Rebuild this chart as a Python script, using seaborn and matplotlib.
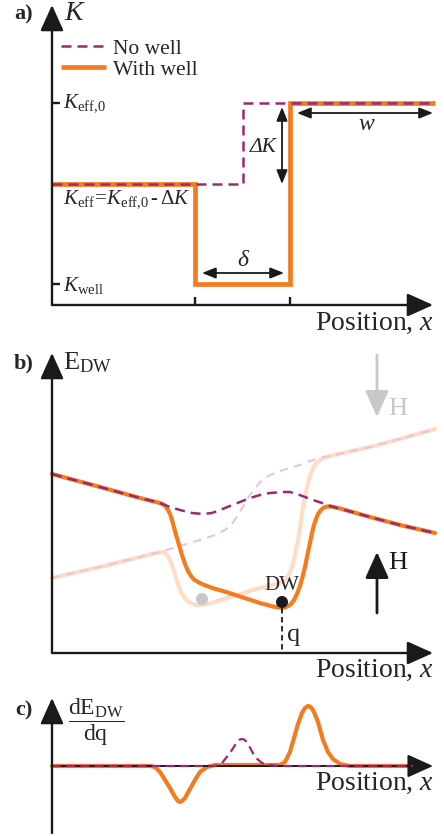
import numpy as np
import pandas as pd
import matplotlib
matplotlib.use("Agg")
import matplotlib.pyplot as plt
import seaborn as sns

# ---------------- data (arbitrary units) ----------------
# Panel a: anisotropy profile K(x)
a_pos_nowell = [0.00, 1.91, 1.91, 3.83]
a_K_nowell = [1.21, 1.21, 2.02, 2.02]
a_pos_well = [0.00, 1.43, 1.43, 2.38, 2.38, 3.83]
a_K_well = [1.21, 1.21, 0.21, 0.21, 2.02, 2.02]
a_xticks = [1.43, 2.38]
a_yticks = [0.21, 2.02]

# Panel b: domain-wall energy E_DW(x)
b_pos_well_up = [0.00, 0.48, 0.88, 1.06, 1.09, 1.12, 1.14, 1.16, 1.18, 1.20, 1.23, 1.27, 1.30,
                 1.33, 1.36, 1.39, 1.42, 1.46, 1.50, 1.55, 1.62, 1.71, 1.88, 2.08, 2.21,
                 2.27, 2.30, 2.33, 2.36, 2.39, 2.42, 2.45, 2.48, 2.50, 2.53, 2.55, 2.58,
                 2.60, 2.62, 2.64, 2.66, 2.69, 2.72, 2.75, 2.79, 2.84, 2.90, 3.18, 3.48, 3.83]
b_E_well_up = [1.79, 1.66, 1.55, 1.505, 1.495, 1.48, 1.46, 1.43, 1.39, 1.33, 1.22, 1.08, 0.98,
               0.89, 0.82, 0.77, 0.735, 0.71, 0.69, 0.67, 0.645, 0.62, 0.565, 0.50, 0.465,
               0.455, 0.45, 0.455, 0.47, 0.49, 0.53, 0.59, 0.67, 0.74, 0.86, 0.96, 1.10,
               1.20, 1.28, 1.34, 1.39, 1.43, 1.455, 1.465, 1.465, 1.455, 1.44, 1.36, 1.28, 1.20]
b_pos_nowell_up = [0.00, 0.48, 0.88, 1.08, 1.18, 1.28, 1.40, 1.51, 1.60, 1.68, 1.78, 1.88,
                   1.98, 2.08, 2.18, 2.31, 2.38, 2.45, 2.53, 2.61, 2.70, 2.78, 3.18, 3.48, 3.83]
b_E_nowell_up = [1.79, 1.66, 1.55, 1.50, 1.46, 1.43, 1.40, 1.39, 1.40, 1.43, 1.47, 1.51,
                 1.55, 1.58, 1.60, 1.61, 1.61, 1.59, 1.56, 1.53, 1.50, 1.47, 1.36, 1.28, 1.20]
b_pos_well_down = [0.00, 0.48, 0.88, 1.06, 1.10, 1.13, 1.16, 1.18, 1.21, 1.24, 1.27, 1.30,
                   1.33, 1.36, 1.40, 1.44, 1.51, 1.60, 1.68, 1.88, 2.08, 2.20, 2.27, 2.31,
                   2.34, 2.37, 2.39, 2.41, 2.43, 2.44, 2.46, 2.48, 2.50, 2.53, 2.55, 2.58,
                   2.61, 2.64, 2.68, 2.72, 2.78, 3.18, 3.48, 3.83]
b_E_well_down = [0.75, 0.86, 0.96, 1.005, 1.01, 1.00, 0.97, 0.93, 0.85, 0.75, 0.66, 0.59,
                 0.545, 0.515, 0.495, 0.48, 0.48, 0.50, 0.53, 0.59, 0.65, 0.68, 0.70, 0.715,
                 0.74, 0.78, 0.83, 0.89, 0.97, 1.03, 1.12, 1.25, 1.40, 1.56, 1.66, 1.77,
                 1.845, 1.895, 1.93, 1.955, 1.97, 2.06, 2.14, 2.24]
b_pos_nowell_down = [0.00, 0.48, 0.88, 1.08, 1.28, 1.48, 1.63, 1.73, 1.80, 1.86, 1.92, 1.98,
                     2.04, 2.10, 2.18, 2.28, 2.38, 2.48, 2.58, 2.68, 2.78, 3.18, 3.48, 3.83]
b_E_nowell_down = [0.75, 0.86, 0.96, 1.01, 1.07, 1.13, 1.18, 1.23, 1.29, 1.38, 1.48, 1.58,
                   1.66, 1.73, 1.78, 1.82, 1.85, 1.88, 1.92, 1.95, 1.97, 2.06, 2.14, 2.24]
b_dw_old = (1.50, 0.54)
b_dw_new = (2.30, 0.51)
b_q = 2.30
b_q_E = 0.45

# Panel c: dE_DW/dq
c_pos_well = [0.00, 0.98, 1.03, 1.08, 1.13, 1.18, 1.23, 1.26, 1.28, 1.30, 1.33, 1.38, 1.43,
              1.48, 1.55, 1.63, 1.88, 2.18, 2.28, 2.33, 2.38, 2.42, 2.46, 2.50, 2.53, 2.56,
              2.58, 2.60, 2.62, 2.66, 2.71, 2.76, 2.81, 2.88, 2.98, 3.61]
c_dE_well = [0.00, 0.00, -0.01, -0.06, -0.14, -0.22, -0.31, -0.35, -0.36, -0.35, -0.32, -0.23,
             -0.14, -0.06, -0.01, 0.01, 0.01, 0.01, 0.01, 0.04, 0.14, 0.28, 0.42, 0.53, 0.58,
             0.60, 0.595, 0.575, 0.54, 0.44, 0.26, 0.14, 0.07, 0.02, 0.00, 0.00]
c_pos_nowell = [0.00, 1.63, 1.70, 1.78, 1.85, 1.88, 1.90, 1.92, 1.95, 2.03, 2.10, 2.18, 2.28, 3.61]
c_dE_nowell = [0.00, 0.00, 0.03, 0.13, 0.24, 0.265, 0.27, 0.265, 0.24, 0.09, 0.03, 0.01, 0.00, 0.00]

# ---------------- styling ----------------
ORANGE = "#F47B20"
PURPLE = "#9A2A70"
TAN = "#FDDDC6"
PINK = "#E8C6DA"
GREY = "#C8C8C8"

sns.set_theme(style="white")
plt.rcParams["font.family"] = ["Liberation Serif", "DejaVu Serif"]
plt.rcParams["mathtext.fontset"] = "custom"
plt.rcParams["mathtext.rm"] = "Liberation Serif"
plt.rcParams["mathtext.it"] = "Liberation Serif:italic"
plt.rcParams["mathtext.bf"] = "Liberation Serif:bold"

W, H = 444, 836
fig = plt.figure(figsize=(W / 100, H / 100), dpi=100)
fig.patch.set_facecolor("white")

AX_LW = 1.7
AX_HEAD = "-|>,head_length=0.8,head_width=0.36"


def make_ax(top_px, bot_px, ylim):
    ax = fig.add_axes([0, 1 - bot_px / H, 1, (bot_px - top_px) / H])
    ax.set_xlim(-0.52, 3.92)
    ax.set_ylim(*ylim)
    ax.patch.set_alpha(0)
    for s in ax.spines.values():
        s.set_color("none")
    ax.spines["left"].set_position(("data", 0))
    ax.spines["bottom"].set_position(("data", 0))
    ax.set_xticks([])
    ax.set_yticks([])
    return ax


def axis_arrow(ax, start, end, color="k", lw=AX_LW, z=6):
    ax.annotate("", xy=end, xytext=start,
                arrowprops=dict(arrowstyle=AX_HEAD, lw=lw, color=color,
                                mutation_scale=20, shrinkA=0, shrinkB=0),
                zorder=z)


def dbl_arrow(ax, start, end):
    ax.annotate("", xy=end, xytext=start,
                arrowprops=dict(arrowstyle="<|-|>,head_length=0.55,head_width=0.22",
                                lw=1.3, color="k", mutation_scale=15,
                                shrinkA=0, shrinkB=0), zorder=6)


def curve(ax, x, y, color, lw, ls="-", z=3, **kw):
    sns.lineplot(x=x, y=y, ax=ax, sort=False, estimator=None, color=color,
                 linewidth=lw, linestyle=ls, zorder=z, **kw)
    ax.set(xlabel="", ylabel="")
    return ax.lines[-1]


DASH = (0, (4, 2.4))
POS_LABEL = r"Position, $x$"
POS_FS = 20

# ---------------- panel a ----------------
axa = make_ax(0, 335, (-0.30, 3.05))
l_well = curve(axa, a_pos_well, a_K_well, ORANGE, 3.4, z=3,
               solid_joinstyle="miter", solid_capstyle="butt")
l_nowell = curve(axa, a_pos_nowell, a_K_nowell, PURPLE, 1.8, ls=DASH, z=4)
axa.set_xticks(a_xticks)
axa.set_yticks(a_yticks)
axa.tick_params(bottom=True, left=True, direction="in", length=6, width=AX_LW,
                color="k", labelbottom=False, labelleft=False)
axis_arrow(axa, (0, 0), (0, 3.00))
axis_arrow(axa, (0, 0), (3.81, 0))
axa.legend(handles=[l_nowell, l_well], labels=["No well", "With well"],
           loc="upper left", bbox_to_anchor=(0.138, 0.885), frameon=False,
           fontsize=15.5, handlelength=2.1, handletextpad=0.3, labelspacing=0.05,
           borderaxespad=0, borderpad=0)
axa.text(-0.28, 2.91, "a)", fontsize=16, fontweight="bold", ha="center", va="center")
axa.text(0.12, 2.91, "K", fontsize=20, fontstyle="italic", ha="left", va="center")
axa.text(0.11, 2.02, r"$K_{\mathrm{eff{,}0}}$", fontsize=15, ha="left", va="center")
axa.text(0.11, 0.20, r"$K_{\mathrm{well}}$", fontsize=15, ha="left", va="center")
axa.text(0.11, 1.06, r"$K_{\mathrm{eff}}\!=\!K_{\mathrm{eff{,}0}}\,$-$\,\Delta K$", fontsize=15,
         ha="left", va="center")
dbl_arrow(axa, (2.30, 1.21), (2.30, 1.98))
axa.text(2.11, 1.58, "ΔK", fontsize=15.5, fontstyle="italic", ha="center", va="center")
dbl_arrow(axa, (2.45, 1.92), (3.81, 1.92))
axa.text(3.14, 1.80, "w", fontsize=17, fontstyle="italic", ha="center", va="center")
dbl_arrow(axa, (1.50, 0.32), (2.32, 0.32))
axa.text(1.91, 0.44, "δ", fontsize=17, fontstyle="italic", ha="center", va="center")
axa.text(3.82, -0.18, POS_LABEL, fontsize=POS_FS, ha="right", va="center")

# ---------------- panel b ----------------
axb = make_ax(335, 680, (-0.27, 3.18))
curve(axb, b_pos_well_down, b_E_well_down, TAN, 3.0, z=2)
curve(axb, b_pos_nowell_down, b_E_nowell_down, PINK, 1.5, ls=(0, (4, 3)), z=2.5)
curve(axb, b_pos_well_up, b_E_well_up, ORANGE, 3.0, z=3)
curve(axb, b_pos_nowell_up, b_E_nowell_up, PURPLE, 1.8, ls=DASH, z=4)
sns.scatterplot(x=[b_dw_old[0]], y=[b_dw_old[1]], ax=axb, s=75, color=GREY,
                edgecolor="none", zorder=5)
sns.scatterplot(x=[b_dw_new[0]], y=[b_dw_new[1]], ax=axb, s=75, color="k",
                edgecolor="none", zorder=5)
axb.set(xlabel="", ylabel="")
axb.plot([b_q, b_q], [b_q_E, 0], color="k", lw=1.3, ls=(0, (3, 2)), zorder=4)
axis_arrow(axb, (0, 0), (0, 3.00))
axis_arrow(axb, (0, 0), (3.81, 0))
axis_arrow(axb, (3.25, 2.98), (3.25, 2.36), color=GREY, lw=2.0)
axis_arrow(axb, (3.25, 0.40), (3.25, 1.01), color="k", lw=2.0)
axb.text(3.36, 2.44, "H", fontsize=19, color=GREY, ha="left", va="center")
axb.text(3.36, 0.90, "H", fontsize=19, color="k", ha="left", va="center")
axb.text(-0.28, 2.90, "b)", fontsize=16, fontweight="bold", ha="center", va="center")
axb.text(0.11, 2.90, r"$\mathrm{E}_{\mathrm{DW}}$", fontsize=19, ha="left", va="center")
axb.text(2.30, 0.67, "DW", fontsize=15, ha="center", va="center")
axb.text(2.35, 0.18, "q", fontsize=19, ha="left", va="center")
axb.text(3.82, -0.17, POS_LABEL, fontsize=POS_FS, ha="right", va="center")

# ---------------- panel c ----------------
axc = make_ax(680, 836, (-0.70, 0.86))
axis_arrow(axc, (0, -0.67), (0, 0.68))
curve(axc, c_pos_well, c_dE_well, ORANGE, 3.0, z=3)
axis_arrow(axc, (0, 0), (3.81, 0), lw=1.4, z=3.5)
curve(axc, c_pos_nowell, c_dE_nowell, PURPLE, 1.6, ls=DASH, z=4)
axc.text(-0.28, 0.56, "c)", fontsize=16, fontweight="bold", ha="center", va="center")
axc.text(0.44, 0.44, r"$\dfrac{\mathrm{dE}_{\mathrm{DW}}}{\mathrm{dq}}$", fontsize=17,
         ha="center", va="center")
axc.text(3.82, -0.17, POS_LABEL, fontsize=POS_FS, ha="right", va="center")

fig.savefig("out.png", dpi=100, facecolor="white")
